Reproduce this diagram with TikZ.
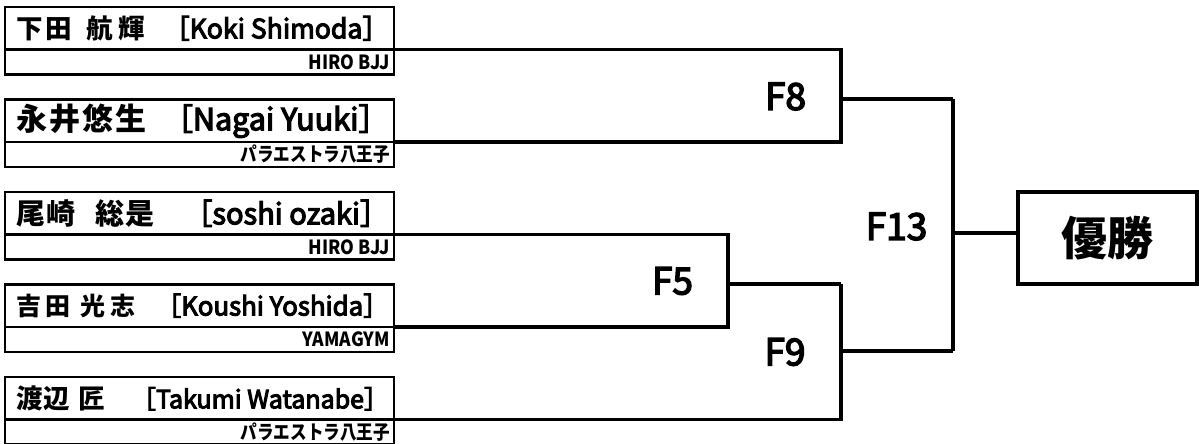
\documentclass[tikz,border=0pt]{standalone}
\usepackage{fontspec}
\setmainfont{Noto Sans CJK JP}
\newfontfamily\medfont{Noto Sans CJK JP}[FakeBold=4]
\newcommand\plname[4]{\hbox to 389pt{\hspace{12pt}{\fontsize{#2}{#2}\selectfont\bfseries #1}\hfill{\medfont\fontsize{#4}{#4}\selectfont #3}\hspace{5pt}}}
\newcommand\plclub[3]{\hbox to 389pt{\hfill\scalebox{#3}[1]{\fontsize{#2}{#2}\selectfont\bfseries #1}\hspace{4pt}}}
\begin{document}
\begin{tikzpicture}[x=1pt,y=-1pt,
  cell/.style={draw=black,line width=2.3pt,rectangle,inner sep=0pt,outer sep=0pt,
    minimum width=389pt,anchor=north west},
  namerow/.style={cell,minimum height=42.5pt},
  clubrow/.style={cell,minimum height=25pt},
  br/.style={line width=3.2pt,line join=miter},
  flabel/.style={inner sep=0pt,font=\medfont\fontsize{37}{37}\selectfont}
]
\useasboundingbox (0,0) rectangle (1199,444);
\clip (0,0) rectangle (1199,444);
% players
\node[namerow] (n1) at (5,7)      {\plname{下\kern2pt 田\kern15pt 航\kern5pt 輝}{26.5}{［Koki Shimoda］}{26.6}};
\node[clubrow] (c1) at (5,49.5)   {\plclub{HIRO BJJ}{19.5}{0.9}};
\node[namerow] (n2) at (5,99.5)   {\plname{永\kern2pt 井\kern2pt 悠\kern2pt 生}{31}{［Nagai Yuuki］}{30.5}};
\node[clubrow] (c2) at (5,142)    {\plclub{パラエストラ八王子}{19.5}{0.85}};
\node[namerow] (n3) at (5,192)    {\plname{尾\kern0.5pt 崎\kern20pt 総\kern1pt 是}{29}{［soshi ozaki］}{29}};
\node[clubrow] (c3) at (5,234.5)  {\plclub{HIRO BJJ}{19.5}{0.9}};
\node[namerow] (n4) at (5,284.5)  {\plname{吉\kern4pt 田\kern10pt 光\kern5pt 志}{25}{［Koushi Yoshida］}{25.8}};
\node[clubrow] (c4) at (5,327)    {\plclub{YAMAGYM}{19.5}{0.9}};
\node[namerow] (n5) at (5,377)    {\plname{渡\kern0.5pt 辺\kern8.5pt 匠}{26.5}{［Takumi Watanabe］}{25}};
\node[clubrow] (c5) at (5,419.5)  {\plclub{パラエストラ八王子}{19.5}{0.85}};
% winner
\node[draw=black,line width=3.2pt,inner sep=0pt,outer sep=0pt,minimum width=179pt,
  minimum height=92pt,anchor=north west,font=\fontsize{46}{46}\selectfont\bfseries]
  (win) at (1018,192) {優勝};
% bracket columns and joins
\coordinate (v5) at (728,0);
\coordinate (v8) at (841,0);
\coordinate (v13) at (953,0);
\coordinate (o8) at (841,99);
\coordinate (o5) at (728,284);
\coordinate (o9) at (841,351);
\coordinate (o13) at (953,233);
% F8
\draw[br] (c1.north east) -- (c1.north east -| v8) -- (c2.north east -| v8) -- (c2.north east);
\draw[br] (o8) -- (o8 -| v13);
% F5
\draw[br] (c3.north east) -- (c3.north east -| v5) -- (c4.north east -| v5) -- (c4.north east);
\draw[br] (o5) -- (o5 -| v8);
% F9
\draw[br] (o5 -| v8) -- (c5.north east -| v8) -- (c5.north east);
\draw[br] (o9) -- (o9 -| v13);
% F13
\draw[br] (o8 -| v13) -- (o9 -| v13);
\draw[br] (o13) -- (win.west |- o13);
% labels
\node[flabel] (l8) at (785.5,96.5) {F8};
\node[flabel] (l5) at (672.5,281) {F5};
\node[flabel] (l9) at (785,352) {F9};
\node[flabel] (l13) at (896.5,226.5) {F13};
\end{tikzpicture}
\end{document}
